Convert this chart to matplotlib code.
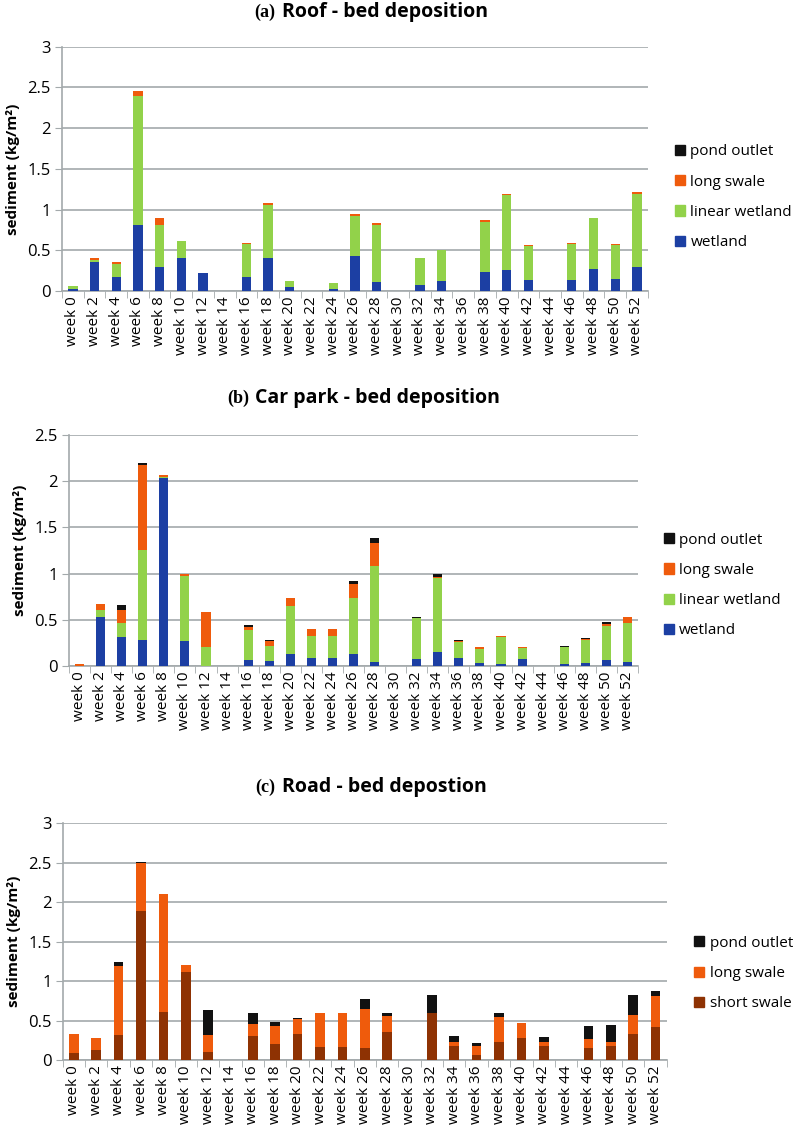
import numpy as np
import matplotlib.pyplot as plt
from matplotlib.patches import Patch

plt.rcParams['font.family'] = ['Open Sans', 'DejaVu Sans']

weeks = ['week %d' % w for w in range(0, 53, 2)]

# (a) Roof
roof_wetland = [0.02, 0.35, 0.17, 0.81, 0.30, 0.40, 0.22, 0, 0.17, 0.40, 0.05, 0, 0.03, 0.43,
                0.11, 0, 0.07, 0.12, 0, 0.23, 0.26, 0.14, 0, 0.14, 0.27, 0.15, 0.30]
roof_linear = [0.04, 0.03, 0.16, 1.59, 0.51, 0.21, 0.0, 0, 0.41, 0.65, 0.07, 0, 0.07, 0.49,
               0.70, 0, 0.33, 0.38, 0, 0.62, 0.92, 0.41, 0, 0.44, 0.62, 0.42, 0.89]
roof_long = [0.005, 0.03, 0.02, 0.06, 0.08, 0.0, 0.0, 0, 0.01, 0.03, 0.0, 0, 0.0, 0.03,
             0.02, 0, 0.005, 0.0, 0, 0.02, 0.01, 0.01, 0, 0.01, 0.01, 0.01, 0.03]
roof_pond = [0] * 27

# (b) Car park
car_wetland = [0, 0.53, 0.31, 0.28, 2.03, 0.27, 0, 0, 0.07, 0.05, 0.13, 0.09, 0.09, 0.13,
               0.04, 0, 0.08, 0.15, 0.09, 0.03, 0.02, 0.08, 0, 0.02, 0.03, 0.06, 0.04]
car_linear = [0, 0.08, 0.16, 0.98, 0.02, 0.70, 0.21, 0, 0.32, 0.17, 0.52, 0.23, 0.23, 0.61,
              1.04, 0, 0.44, 0.80, 0.17, 0.15, 0.29, 0.11, 0, 0.18, 0.25, 0.37, 0.43]
car_long = [0.02, 0.06, 0.14, 0.91, 0.02, 0.03, 0.37, 0, 0.03, 0.05, 0.09, 0.08, 0.08, 0.15,
            0.25, 0, 0.0, 0.01, 0.01, 0.02, 0.01, 0.01, 0, 0.01, 0.01, 0.02, 0.06]
car_pond = [0, 0, 0.05, 0.03, 0, 0, 0, 0, 0.02, 0.01, 0, 0, 0, 0.03,
            0.05, 0, 0.01, 0.04, 0.01, 0, 0, 0, 0, 0.01, 0.01, 0.03, 0]

# (c) Road
road_short = [0.09, 0.13, 0.32, 1.89, 0.61, 1.11, 0.10, 0, 0.31, 0.20, 0.33, 0.17, 0.17, 0.15,
              0.35, 0, 0.60, 0.18, 0.07, 0.23, 0.28, 0.18, 0, 0.15, 0.18, 0.33, 0.42]
road_long = [0.24, 0.15, 0.87, 0.61, 1.49, 0.09, 0.22, 0, 0.15, 0.23, 0.19, 0.42, 0.42, 0.50,
             0.21, 0, 0.0, 0.05, 0.11, 0.31, 0.19, 0.05, 0, 0.12, 0.05, 0.24, 0.39]
road_pond = [0, 0, 0.05, 0.01, 0, 0, 0.31, 0, 0.14, 0.05, 0.01, 0.01, 0.01, 0.12,
             0.04, 0, 0.23, 0.08, 0.03, 0.06, 0, 0.06, 0, 0.16, 0.21, 0.26, 0.06]

BLUE = '#1c3fa3'
GREEN = '#92d24a'
ORANGE = '#ef5b0c'
BLACK = '#111111'
BROWN = '#8e3203'
GRID = '#a3a9ab'

titles = {'(a)': 'Roof - bed deposition',
          '(b)': 'Car park - bed deposition',
          '(c)': 'Road - bed depostion'}

fig = plt.figure(figsize=(7.98, 11.33), dpi=100)


def panel(rect, series, ymax, tag, title_pos, legend_pos):
    ax = fig.add_axes(rect)
    x = np.arange(len(weeks))
    bottom = np.zeros(len(weeks))
    handles = []
    for label, vals, color in series:
        v = np.array(vals, dtype=float)
        ax.bar(x, v, 0.43, bottom=bottom, color=color, zorder=3)
        bottom += v
        handles.append(Patch(color=color, label=label))
    ax.set_xlim(-0.5, len(weeks) - 0.5)
    ax.set_ylim(0, ymax)
    yt = np.arange(0, ymax + 0.01, 0.5)
    ax.set_yticks(yt)
    ax.set_yticklabels(['%g' % t for t in yt], fontsize=12)
    ax.set_xticks(x)
    ax.set_xticklabels(weeks, rotation=90, fontsize=11)
    ax.set_xticks(np.arange(-0.5, len(weeks)), minor=True)
    ax.tick_params(axis='x', which='major', length=0, pad=4)
    ax.tick_params(axis='x', which='minor', length=5, color=GRID)
    ax.tick_params(axis='y', length=5, color=GRID, pad=3)
    ax.grid(axis='y', color=GRID, linewidth=1.2, zorder=0)
    for s in ['top', 'right']:
        ax.spines[s].set_visible(False)
    for s in ['left', 'bottom']:
        ax.spines[s].set_color(GRID)
        ax.spines[s].set_linewidth(1.2)
    ax.set_ylabel('sediment (kg/m²)', fontsize=11, fontweight='bold', labelpad=5)
    ax.legend(handles=handles[::-1], loc='center left', bbox_to_anchor=legend_pos,
              bbox_transform=fig.transFigure, frameon=False, fontsize=11,
              handlelength=0.65, handleheight=0.65, handletextpad=0.35,
              labelspacing=1.0, borderpad=0, borderaxespad=0)
    tx, ty = title_pos
    fig.text(tx - 0.005, ty, tag, family='Liberation Serif', fontweight='bold',
             fontsize=13, ha='right', va='center')
    fig.text(tx + 0.003, ty, titles[tag], fontweight='bold', fontsize=14,
             ha='left', va='center')
    return ax


panel([0.0777, 0.7432, 0.734, 0.2156],
      [('wetland', roof_wetland, BLUE), ('linear wetland', roof_linear, GREEN),
       ('long swale', roof_long, ORANGE), ('pond outlet', roof_pond, BLACK)],
      3, '(a)', (0.350, 1 - 12 / 1133), (0.846, 0.826))

panel([0.0865, 0.4122, 0.713, 0.2039],
      [('wetland', car_wetland, BLUE), ('linear wetland', car_linear, GREEN),
       ('long swale', car_long, ORANGE), ('pond outlet', car_pond, BLACK)],
      2.5, '(b)', (0.317, 1 - 398 / 1133), (0.832, 0.4832))

panel([0.0786, 0.0644, 0.757, 0.209],
      [('short swale', road_short, BROWN), ('long swale', road_long, ORANGE),
       ('pond outlet', road_pond, BLACK)],
      3, '(c)', (0.350, 1 - 787 / 1133), (0.870, 0.1408))

fig.savefig('out.png', dpi=100)
